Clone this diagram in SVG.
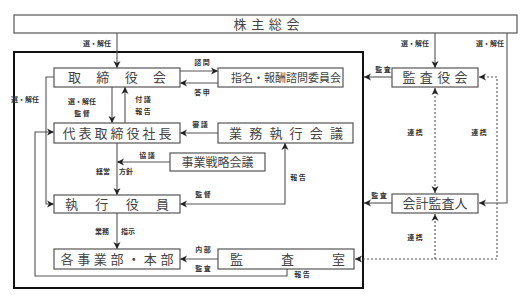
<svg xmlns="http://www.w3.org/2000/svg" width="527" height="308" viewBox="0 0 527 308">
<style>
.box{fill:#fff;stroke:#555;stroke-width:1.2}
.big{fill:none;stroke:#111;stroke-width:2}
.nt{font-family:"Noto Sans CJK JP","Noto Sans CJK SC",sans-serif;font-size:13px;fill:#444;text-anchor:middle}
.lb{font-family:"Noto Sans CJK JP","Noto Sans CJK SC",sans-serif;font-size:7px;font-weight:bold;fill:#333;text-anchor:middle}
.ln{fill:none;stroke:#555;stroke-width:1.1}
.dt{fill:none;stroke:#555;stroke-width:1.1;stroke-dasharray:2,2}
.a{marker-end:url(#ah)}
.ab{marker-start:url(#ah);marker-end:url(#ah)}
</style>
<defs>
<marker id="ah" markerUnits="userSpaceOnUse" markerWidth="8" markerHeight="8" refX="7" refY="4" orient="auto-start-reverse">
<path d="M0,0.5 L7,4 L0,7.5 L2,4 z" fill="#222"/>
</marker>
</defs>
<rect width="527" height="308" fill="#fff"/>
<rect class="big" x="14" y="52" width="349" height="236"/>
<g id="connectors">
<path class="ln a" d="M117,33 V68"/>
<path class="ln a" d="M435,33 V68"/>
<path class="ln a" d="M507,33 V203 H479"/>
<path class="ln a" d="M392,77 H364"/>
<path class="ln a" d="M392,203 H364"/>
<path class="dt ab" d="M479,77 H497 V259 H355"/>
<path class="dt ab" d="M435,88 V193"/>
<path class="dt a" d="M435,259 V214"/>
<path class="ln a" d="M54,77 H46 V204 H54"/>
<path class="ln a" d="M112,87 V123"/>
<path class="ln a" d="M125,123 V87"/>
<path class="ln a" d="M180,71 H218"/>
<path class="ln a" d="M218,83 H180"/>
<path class="ln a" d="M218,133 H180"/>
<path class="ln a" d="M170,162 H117"/>
<path class="ln a" d="M117,143 V195"/>
<path class="ln ab" d="M285,143 V204 H180"/>
<path class="ln a" d="M117,213 V249"/>
<path class="ln a" d="M218,259 H180"/>
<path class="ln a" d="M287,269 V276 H35 V132 H54"/>
</g>
<g id="labels">
<text class="lb" x="97" y="46">選・解任</text>
<text class="lb" x="415" y="46">選・解任</text>
<text class="lb" x="490" y="46">選・解任</text>
<text class="lb" x="25" y="102">選・解任</text>
<text class="lb" x="82" y="104">選・解任</text>
<text class="lb" x="82" y="116">監 督</text>
<text class="lb" x="143" y="102">付 議</text>
<text class="lb" x="143" y="114">報 告</text>
<text class="lb" x="202" y="65">諮 問</text>
<text class="lb" x="202" y="95">答 申</text>
<text class="lb" x="383" y="72">監 査</text>
<text class="lb" x="200" y="127">審 議</text>
<text class="lb" x="147" y="158">協 議</text>
<text class="lb" x="103" y="174">経営</text>
<text class="lb" x="126" y="174">方針</text>
<text class="lb" x="203" y="197">監 督</text>
<text class="lb" x="298" y="180">報 告</text>
<text class="lb" x="415" y="135">連 携</text>
<text class="lb" x="479" y="135">連 携</text>
<text class="lb" x="415" y="240">連 携</text>
<text class="lb" x="379" y="198">監 査</text>
<text class="lb" x="102" y="234">業務</text>
<text class="lb" x="128" y="234">指示</text>
<text class="lb" x="203" y="252">内 部</text>
<text class="lb" x="203" y="271">監 査</text>
<text class="lb" x="302" y="277">報 告</text>
</g>
<g id="n_kabunushi"><rect class="box" x="14" y="15" width="503" height="18"/><text class="nt" x="266.5" y="29" textLength="66" lengthAdjust="spacing">株主総会</text></g>
<g id="n_torishimariyakukai"><rect class="box" x="54" y="68" width="126" height="19"/><text class="nt" x="117" y="82" textLength="98" lengthAdjust="spacing">取締役会</text></g>
<g id="n_shimei"><rect class="box" x="218" y="68" width="125" height="19"/><text class="nt" x="286" y="82" style="font-size:11.5px" textLength="110" lengthAdjust="spacingAndGlyphs">指名・報酬諮問委員会</text></g>
<g id="n_kansayakukai"><rect class="box" x="392" y="68" width="86" height="19"/><text class="nt" x="435" y="82" textLength="65" lengthAdjust="spacing">監査役会</text></g>
<g id="n_daihyo"><rect class="box" x="54" y="123" width="126" height="20"/><text class="nt" x="117" y="138" textLength="109" lengthAdjust="spacing">代表取締役社長</text></g>
<g id="n_gyomu"><rect class="box" x="218" y="123" width="135" height="20"/><text class="nt" x="286" y="138" textLength="114" lengthAdjust="spacing">業務執行会議</text></g>
<g id="n_jigyo"><rect class="box" x="170" y="153" width="95" height="18"/><text class="nt" x="217.5" y="167" style="font-size:12px">事業戦略会議</text></g>
<g id="n_shikko"><rect class="box" x="54" y="195" width="126" height="18"/><text class="nt" x="117" y="209" textLength="104" lengthAdjust="spacing">執行役員</text></g>
<g id="n_kaikei"><rect class="box" x="392" y="194" width="86" height="19"/><text class="nt" x="435" y="208">会計監査人</text></g>
<g id="n_jigyobu"><rect class="box" x="54" y="249" width="126" height="20"/><text class="nt" x="117" y="264" textLength="113" lengthAdjust="spacing">各事業部・本部</text></g>
<g id="n_kansashitsu"><rect class="box" x="218" y="249" width="136" height="20"/><text class="nt" x="287.5" y="264" textLength="115" lengthAdjust="spacing">監査室</text></g>
</svg>
